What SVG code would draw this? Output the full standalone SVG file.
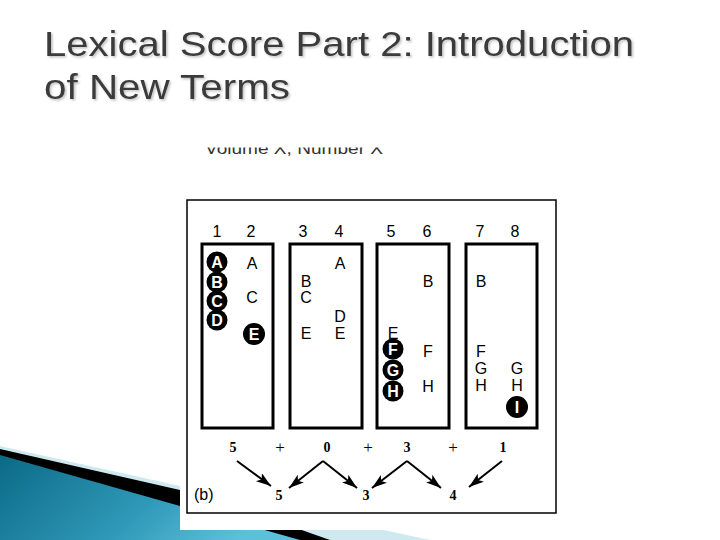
<svg xmlns="http://www.w3.org/2000/svg" width="720" height="540" viewBox="0 0 720 540">
<defs>
<linearGradient id="teal" x1="0" y1="0" x2="1" y2="0.3">
<stop offset="0" stop-color="#0b6a86"/>
<stop offset="0.6" stop-color="#2f98b8"/>
<stop offset="1" stop-color="#5cc0dc"/>
</linearGradient>
<filter id="shadow" x="-5%" y="-20%" width="110%" height="140%">
<feDropShadow dx="1.5" dy="1.5" stdDeviation="0.8" flood-color="#000" flood-opacity="0.25"/>
</filter>
<clipPath id="cut"><rect x="190" y="147.5" width="220" height="10"/></clipPath>
<marker id="ah" markerUnits="userSpaceOnUse" markerWidth="18" markerHeight="12" refX="15" refY="5" orient="auto">
<path d="M0,0 L15,5 L0,10 L3.5,5 z" fill="#000"/>
</marker>
</defs>
<style>
.t{font-family:"Liberation Sans",Arial,sans-serif;font-size:16px;fill:#000;text-anchor:middle}
.w{font-family:"Liberation Sans",Arial,sans-serif;font-size:16px;font-weight:bold;fill:#fff;text-anchor:middle}
.n{font-family:"Liberation Serif","Times New Roman",serif;font-size:14px;font-weight:bold;fill:#000;text-anchor:middle}
.p{font-family:"Liberation Serif","Times New Roman",serif;font-size:17px;fill:#000;text-anchor:middle}
.box{fill:#fff;stroke:#000;stroke-width:3}
.arr{stroke:#000;stroke-width:2;fill:none;marker-end:url(#ah)}
.title{font-family:"Liberation Sans",Arial,sans-serif;font-size:35px;fill:#3a3a3a;filter:url(#shadow)}
</style>
<rect width="720" height="540" fill="#fff"/>
<g id="background">
<path d="M0,446 L180,486 L430,540 L0,540 z" fill="#cfe9f1"/>
<path d="M0,449 L180,490 Q260,515 330,540 L0,540 z" fill="#000"/>
<path d="M0,455 L180,506 L300,540 L0,540 z" fill="url(#teal)"/>
</g>
<g id="title">
<text class="title" x="44" y="56" textLength="590" lengthAdjust="spacingAndGlyphs">Lexical Score Part 2: Introduction</text>
<text class="title" x="44" y="99" textLength="246" lengthAdjust="spacingAndGlyphs">of New Terms</text>
</g>
<g id="figure">
<rect x="180" y="130" width="376" height="400" fill="#fff"/>
<text clip-path="url(#cut)" x="205" y="154" font-family="Liberation Sans,Arial,sans-serif" font-size="17" fill="#333" textLength="178" lengthAdjust="spacingAndGlyphs">Volume X, Number X</text>
<rect x="187" y="200" width="369" height="313" fill="#fff" stroke="#000" stroke-width="1.5"/>
</g>
<g id="col-labels">
<text class="t" x="217" y="237">1</text>
<text class="t" x="251" y="237">2</text>
<text class="t" x="303" y="237">3</text>
<text class="t" x="339" y="237">4</text>
<text class="t" x="391" y="237">5</text>
<text class="t" x="427" y="237">6</text>
<text class="t" x="480" y="237">7</text>
<text class="t" x="515" y="237">8</text>
</g>
<g id="box1">
<rect class="box" x="202" y="244" width="71" height="184"/>
<circle cx="217" cy="262" r="10.5"/><text class="w" x="217" y="268">A</text>
<circle cx="217" cy="282" r="10.5"/><text class="w" x="217" y="288">B</text>
<circle cx="217" cy="301" r="10.5"/><text class="w" x="217" y="307">C</text>
<circle cx="217" cy="320" r="10.5"/><text class="w" x="217" y="326">D</text>
<text class="t" x="252" y="269">A</text>
<text class="t" x="252" y="303">C</text>
<circle cx="254" cy="334" r="11"/><text class="w" x="254" y="340">E</text>
</g>
<g id="box2">
<rect class="box" x="290" y="244" width="72" height="184"/>
<text class="t" x="306" y="287">B</text>
<text class="t" x="306" y="303">C</text>
<text class="t" x="306" y="339">E</text>
<text class="t" x="340" y="269">A</text>
<text class="t" x="340" y="322">D</text>
<text class="t" x="340" y="339">E</text>
</g>
<g id="box3">
<rect class="box" x="377" y="244" width="72" height="184"/>
<text class="t" x="393" y="339">E</text>
<circle cx="393" cy="349" r="10.5"/><text class="w" x="393" y="355">F</text>
<circle cx="393" cy="370" r="10.5"/><text class="w" x="393" y="376">G</text>
<circle cx="393" cy="391" r="10.5"/><text class="w" x="393" y="397">H</text>
<text class="t" x="428" y="287">B</text>
<text class="t" x="428" y="357">F</text>
<text class="t" x="428" y="392">H</text>
</g>
<g id="box4">
<rect class="box" x="466" y="244" width="71" height="184"/>
<text class="t" x="481" y="287">B</text>
<text class="t" x="481" y="357">F</text>
<text class="t" x="481" y="374">G</text>
<text class="t" x="481" y="391">H</text>
<text class="t" x="517" y="374">G</text>
<text class="t" x="517" y="391">H</text>
<circle cx="517" cy="407" r="11"/><text class="w" x="517" y="413">I</text>
</g>
<g id="score">
<text class="n" x="233" y="452">5</text>
<text class="p" x="280" y="453">+</text>
<text class="n" x="327" y="452">0</text>
<text class="p" x="368" y="453">+</text>
<text class="n" x="407" y="452">3</text>
<text class="p" x="453" y="453">+</text>
<text class="n" x="503" y="452">1</text>
<text class="n" x="279" y="500">5</text>
<text class="n" x="366" y="500">3</text>
<text class="n" x="453" y="500">4</text>
<text x="194" y="500" font-family="Liberation Sans,Arial,sans-serif" font-size="16" fill="#000">(b)</text>
</g>
<g id="connectors">
<path class="arr" d="M237,461 L271,486"/>
<path class="arr" d="M323,461 L289,488"/>
<path class="arr" d="M323,461 L357,488"/>
<path class="arr" d="M407,461 L372,488"/>
<path class="arr" d="M407,461 L441,488"/>
<path class="arr" d="M502,461 L469,487"/>
</g>
</svg>
